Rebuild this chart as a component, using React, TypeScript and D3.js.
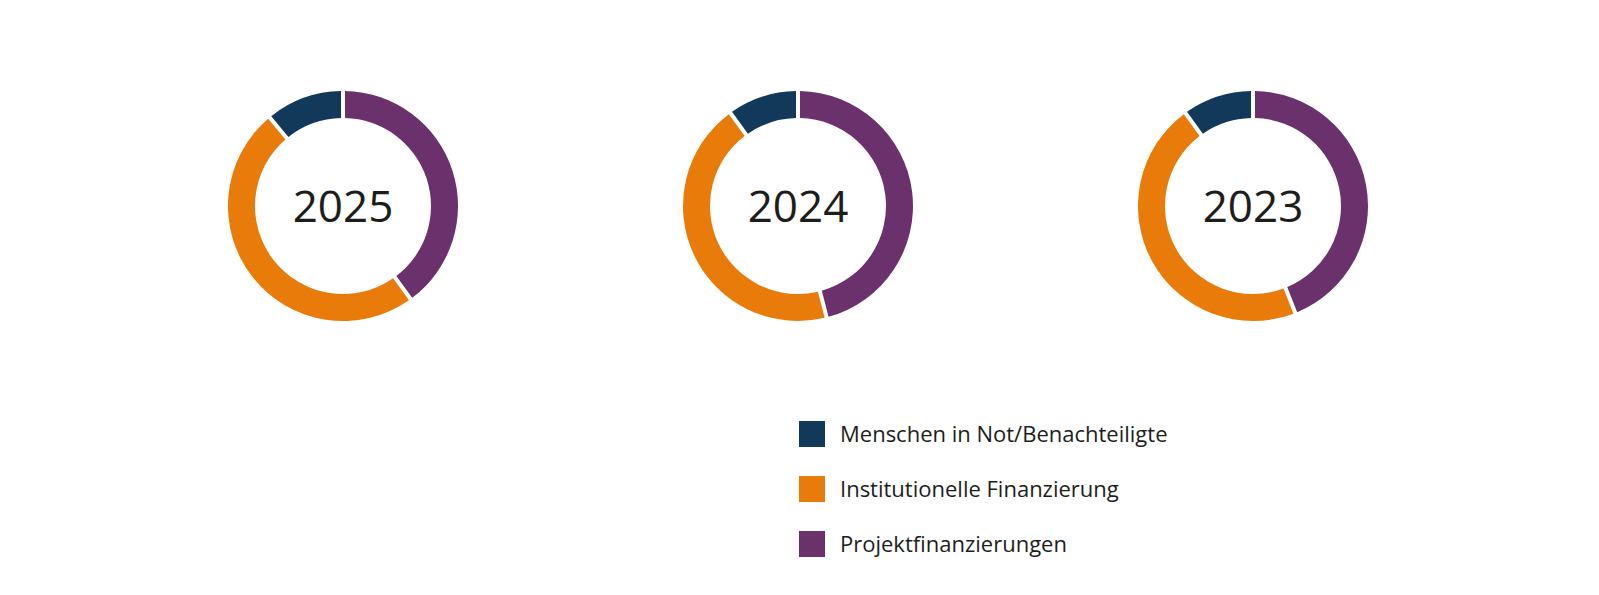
import * as d3 from "d3";
import {useMemo} from "react";

// Kategorien (Reihenfolge im Ring: im Uhrzeigersinn ab 12 Uhr)
const categories = ["Projektfinanzierungen", "Institutionelle Finanzierung", "Menschen in Not/Benachteiligte"];
const legendOrder = ["Menschen in Not/Benachteiligte", "Institutionelle Finanzierung", "Projektfinanzierungen"];
const colors = ["#6b316d", "#e97b0a", "#12385a"];

const years = ["2025", "2024", "2023"];
// Anteile in % je Jahr, gleiche Reihenfolge wie categories
const share2025 = [40, 49, 11];
const share2024 = [46, 44, 10];
const share2023 = [44, 46, 10];
const shares = [share2025, share2024, share2023];

const App = () => {
  const width = 1599;
  const height = 595;
  const outer = 115;
  const inner = 88;

  const color = d3.scaleOrdinal<string, string>().domain(categories).range(colors);
  const xPos = d3.scalePoint<string>().domain(years).range([343, 1253]);

  const pie = useMemo(() => d3.pie<number>().sort(null).value(d => d), []);
  const arc = d3.arc<d3.PieArcDatum<number>>()
    .innerRadius(inner)
    .outerRadius(outer)
    .padAngle(0.04)
    .padRadius(100);

  return (
    <svg width={width} height={height} style={{position: "absolute", left: 0, top: 0, background: "#fff"}}>
      {years.map((year, i) => (
        <g key={year} transform={`translate(${xPos(year)},206)`}>
          {pie(shares[i]).map((d, j) => (
            <path key={j} d={arc(d) ?? ""} fill={color(categories[j])}/>
          ))}
          <text
            textAnchor="middle"
            dominantBaseline="central"
            y={-1}
            fontFamily="'Open Sans', sans-serif"
            fontSize={44}
            fill="#1d1d1b">
            {year}
          </text>
        </g>
      ))}
      {/* Legende */}
      <g transform="translate(799,421)">
        {legendOrder.map((name, i) => (
          <g key={name} transform={`translate(0,${i * 55})`}>
            <rect width={26} height={26} fill={color(name)}/>
            <text
              x={41}
              y={12}
              dominantBaseline="central"
              fontFamily="'Open Sans', sans-serif"
              fontSize={22}
              fill="#1d1d1b">
              {name}
            </text>
          </g>
        ))}
      </g>
    </svg>
  );
};

export default App;
